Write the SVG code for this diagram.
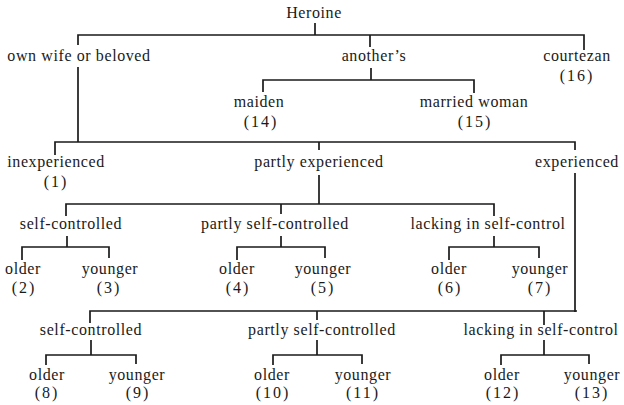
<svg xmlns="http://www.w3.org/2000/svg" width="624" height="405" viewBox="0 0 624 405">
<style>
text{font-family:"Liberation Serif","Times New Roman",serif;font-size:16px;fill:#1a1a1a;text-anchor:middle;letter-spacing:0.6px}
.n{letter-spacing:2px}
#connectors path{fill:none;stroke:#1a1a1a;stroke-width:1.7}
</style>
<rect width="624" height="405" fill="#fff"/>
<g id="connectors">
<path d="M315 23V35M78 45V35H584V50M370 35V47M78 67V142"/>
<path d="M371 68V80M263 92V80H474V93"/>
<path d="M55 155V142H575V150M319 142V150M319 175V204M575 173V312"/>
<path d="M66 216V204H494V216M281 204V214"/>
<path d="M67 236V247M22 260V247H109V258"/>
<path d="M281 236V247M237 260V247H325V258"/>
<path d="M494 236V247M449 260V247H539V258"/>
<path d="M90 323V311H577M317 311V320M544 311V325"/>
<path d="M91 340V355M46 365V355H136V364"/>
<path d="M317 340V355M273 365V355H362V364"/>
<path d="M544 340V355M501 365V355H589V364"/>
</g>
<g id="heroine"><text x="314" y="18">Heroine</text></g>
<g id="own"><text x="79" y="61">own wife or beloved</text></g>
<g id="anothers"><text x="374" y="61">another’s</text></g>
<g id="courtezan"><text x="577" y="61">courtezan</text><text class="n" x="577" y="81">(16)</text></g>
<g id="maiden"><text x="259" y="107">maiden</text><text class="n" x="261" y="127">(14)</text></g>
<g id="married"><text x="474" y="107">married woman</text><text class="n" x="475" y="127">(15)</text></g>
<g id="inexperienced"><text x="56" y="167">inexperienced</text><text class="n" x="56" y="187">(1)</text></g>
<g id="partly-exp"><text x="319" y="167">partly experienced</text></g>
<g id="experienced"><text x="577" y="167">experienced</text></g>
<g id="sc1"><text x="71" y="229">self-controlled</text></g>
<g id="psc1"><text x="275" y="229">partly self-controlled</text></g>
<g id="lsc1"><text x="488" y="229">lacking in self-control</text></g>
<g id="o2"><text x="23" y="274">older</text><text class="n" x="24" y="293">(2)</text></g>
<g id="y3"><text x="110" y="274">younger</text><text class="n" x="109" y="293">(3)</text></g>
<g id="o4"><text x="237" y="274">older</text><text class="n" x="238" y="293">(4)</text></g>
<g id="y5"><text x="323" y="274">younger</text><text class="n" x="323" y="293">(5)</text></g>
<g id="o6"><text x="449" y="274">older</text><text class="n" x="450" y="293">(6)</text></g>
<g id="y7"><text x="540" y="274">younger</text><text class="n" x="540" y="293">(7)</text></g>
<g id="sc2"><text x="91" y="335">self-controlled</text></g>
<g id="psc2"><text x="322" y="335">partly self-controlled</text></g>
<g id="lsc2"><text x="541" y="335">lacking in self-control</text></g>
<g id="o8"><text x="47" y="380">older</text><text class="n" x="47" y="398">(8)</text></g>
<g id="y9"><text x="137" y="380">younger</text><text class="n" x="138" y="398">(9)</text></g>
<g id="o10"><text x="272" y="380">older</text><text class="n" x="273" y="398">(10)</text></g>
<g id="y11"><text x="363" y="380">younger</text><text class="n" x="363" y="398">(11)</text></g>
<g id="o12"><text x="502" y="380">older</text><text class="n" x="503" y="398">(12)</text></g>
<g id="y13"><text x="592" y="380">younger</text><text class="n" x="592" y="398">(13)</text></g>
</svg>
